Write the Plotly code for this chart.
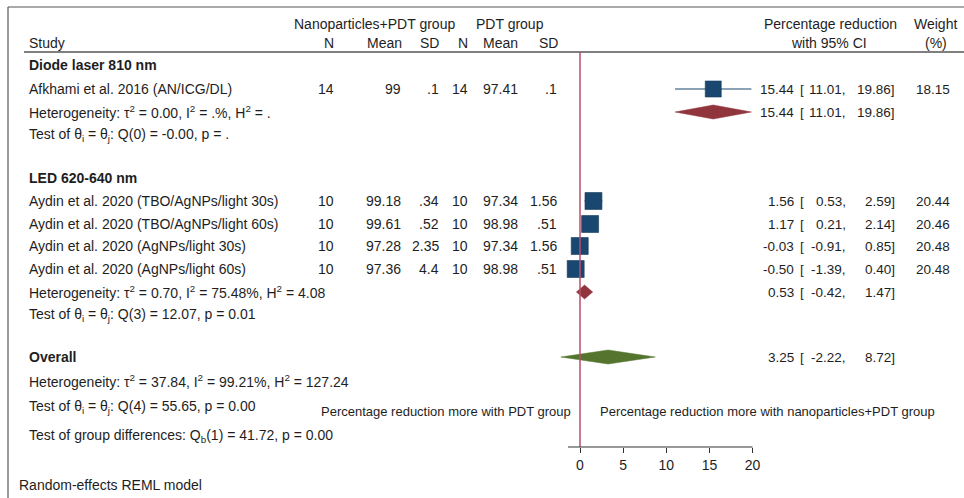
import plotly.graph_objects as go

# ---------------- data ----------------
studies = ["Afkhami et al. 2016 (AN/ICG/DL)",
           "Aydin et al. 2020 (TBO/AgNPs/light 30s)",
           "Aydin et al. 2020 (TBO/AgNPs/light 60s)",
           "Aydin et al. 2020 (AgNPs/light 30s)",
           "Aydin et al. 2020 (AgNPs/light 60s)"]
n1 = [14, 10, 10, 10, 10]
mean1 = [99, 99.18, 99.61, 97.28, 97.36]
sd1 = [0.1, 0.34, 0.52, 2.35, 4.4]
n2 = [14, 10, 10, 10, 10]
mean2 = [97.41, 97.34, 98.98, 97.34, 98.98]
sd2 = [0.1, 1.56, 0.51, 1.56, 0.51]
effect = [15.44, 1.56, 1.17, -0.03, -0.50]
lower = [11.01, 0.53, 0.21, -0.91, -1.39]
upper = [19.86, 2.59, 2.14, 0.85, 0.40]
weight = [18.15, 20.44, 20.46, 20.48, 20.48]

groups = ["Diode laser 810 nm", "LED 620-640 nm"]
group_effect = [15.44, 0.53]
group_lower = [11.01, -0.42]
group_upper = [19.86, 1.47]
group_het = ["Heterogeneity: τ<sup>2</sup> = 0.00, I<sup>2</sup> = .%, H<sup>2</sup> = .",
             "Heterogeneity: τ<sup>2</sup> = 0.70, I<sup>2</sup> = 75.48%, H<sup>2</sup> = 4.08"]
group_test = ["Test of θ<sub>i</sub> = θ<sub>j</sub>: Q(0) = -0.00, p = .",
              "Test of θ<sub>i</sub> = θ<sub>j</sub>: Q(3) = 12.07, p = 0.01"]

overall_effect = 3.25
overall_lower = -2.22
overall_upper = 8.72
overall_het = "Heterogeneity: τ<sup>2</sup> = 37.84, I<sup>2</sup> = 99.21%, H<sup>2</sup> = 127.24"
overall_test = "Test of θ<sub>i</sub> = θ<sub>j</sub>: Q(4) = 55.65, p = 0.00"
group_diff = "Test of group differences: Q<sub>b</sub>(1) = 41.72, p = 0.00"
model_note = "Random-effects REML model"

tick_vals = [0, 5, 10, 15, 20]
axis_min = -1.39
favours_left = "Percentage reduction more with PDT group"
favours_right = "Percentage reduction more with nanoparticles+PDT group"

# ---------------- layout (pixel rows) ----------------
W, H = 964, 498
X0_PX = 580.0          # pixel of x = 0
PX_PER_UNIT = 8.63
AXIS_Y = 447
study_rows = [89, 201, 224, 246, 269]
group_rows = [65, 178]
group_diamond_rows = [112, 292]
group_test_rows = [135, 315]
overall_row = 357
overall_het_row = 381
overall_test_row = 407
group_diff_row = 436
note_row = 485
fav_row = 411

FONT = "Liberation Sans, Arial, sans-serif"
FS = 14
FS_NUM = 13.5
TXT = "#1e1e1e"
NAVY = "#1A476F"
MAROON = "#90353B"
GREEN = "#55752F"
REDLINE = "#B84D6E"


def fmt(v):
    s = "%g" % v
    if s.startswith("0."):
        s = s[1:]
    return s


fig = go.Figure()

# study CI lines (drawn first, behind squares)
ci_x, ci_y = [], []
for lo, hi, y in zip(lower, upper, study_rows):
    ci_x += [lo, hi, None]
    ci_y += [y, y, None]
fig.add_trace(go.Scatter(x=ci_x, y=ci_y, mode="lines",
                         line=dict(color=NAVY, width=1.2),
                         hoverinfo="skip", showlegend=False))

# study squares
fig.add_trace(go.Scatter(
    x=effect, y=study_rows, mode="markers",
    marker=dict(symbol="square", color=NAVY, opacity=1,
                size=[17 * (w / max(weight)) ** 0.5 for w in weight],
                line=dict(width=0.6, color="#153b5d")),
    hoverinfo="skip", showlegend=False))


def diamond(lo, est, hi, yc, color, half=7):
    fig.add_trace(go.Scatter(
        x=[lo, est, hi, est, lo], y=[yc, yc - half, yc, yc + half, yc],
        mode="lines", fill="toself", fillcolor=color,
        line=dict(color=color, width=0.5), hoverinfo="skip", showlegend=False))


for g in range(len(groups)):
    diamond(group_lower[g], group_effect[g], group_upper[g], group_diamond_rows[g], MAROON)
diamond(overall_lower, overall_effect, overall_upper, overall_row, GREEN)

ann = []


def px(x):
    return x / W


def text(x, y, s, anchor="left", size=FS, bold=False, color=TXT):
    if bold:
        s = "<b>" + s + "</b>"
    ann.append(dict(x=px(x), y=y, xref="paper", yref="y", text=s, showarrow=False,
                    xanchor=anchor, yanchor="middle",
                    font=dict(family=FONT, size=size, color=color)))


def ci_text(y, est, lo, hi):
    text(796, y, "%.2f" % est, "right", size=FS_NUM)
    text(798, y, "[", size=FS_NUM)
    text(848, y, "%.2f," % lo, "right", size=FS_NUM)
    text(897, y, "%.2f]" % hi, "right", size=FS_NUM)


# headers
text(374, 24, "Nanoparticles+PDT group", "center")
text(510, 24, "PDT group", "center")
text(830, 24, "Percentage reduction", "center")
text(935, 24, "Weight", "center")
text(27, 43, "Study")
text(336, 43, "N", "right")
text(404, 43, "Mean", "right")
text(441, 43, "SD", "right")
text(470, 43, "N", "right")
text(520, 43, "Mean", "right")
text(560, 43, "SD", "right")
text(829, 43, "with 95% CI", "center")
text(936, 43, "(%)", "center")

# study rows
for i, s in enumerate(studies):
    y = study_rows[i]
    text(27, y, s)
    text(336, y, str(n1[i]), "right")
    text(403, y, fmt(mean1[i]), "right")
    text(441, y, fmt(sd1[i]), "right")
    text(470, y, str(n2[i]), "right")
    text(520, y, fmt(mean2[i]), "right")
    text(559, y, fmt(sd2[i]), "right")
    ci_text(y, effect[i], lower[i], upper[i])
    text(952, y, "%.2f" % weight[i], "right", size=FS_NUM)

# subgroup rows
for g in range(len(groups)):
    text(27, group_rows[g], groups[g], bold=True)
    y = group_diamond_rows[g]
    text(27, y, group_het[g])
    ci_text(y, group_effect[g], group_lower[g], group_upper[g])
    text(27, group_test_rows[g], group_test[g])

# overall
text(27, overall_row, "Overall", bold=True)
ci_text(overall_row, overall_effect, overall_lower, overall_upper)
text(27, overall_het_row, overall_het)
text(27, overall_test_row, overall_test)
text(27, group_diff_row, group_diff)
text(17, note_row, model_note)
text(573, fav_row, favours_left, "right", size=13)
text(598, fav_row, favours_right, "left", size=13)

shapes = [
    # outer frame (top and left)
    dict(type="line", xref="paper", yref="y", x0=px(8), x1=1, y0=7, y1=7,
         line=dict(color="#555555", width=1.2)),
    dict(type="line", xref="paper", yref="y", x0=px(8), x1=px(8), y0=7, y1=H,
         line=dict(color="#555555", width=1.2)),
    # header rule
    dict(type="line", xref="paper", yref="y", x0=px(24), x1=1, y0=52, y1=52,
         line=dict(color="#555555", width=1.6)),
    # no-effect line
    dict(type="line", xref="x", yref="y", x0=0, x1=0, y0=52, y1=AXIS_Y,
         line=dict(color=REDLINE, width=1.5)),
    # x axis baseline
    dict(type="line", xref="x", yref="y", x0=axis_min, x1=max(tick_vals), y0=AXIS_Y, y1=AXIS_Y,
         line=dict(color="#333333", width=1.2)),
]

fig.update_layout(
    width=W, height=H,
    margin=dict(l=0, r=0, t=0, b=0),
    paper_bgcolor="white", plot_bgcolor="white",
    annotations=ann, shapes=shapes,
    xaxis=dict(range=[-X0_PX / PX_PER_UNIT, (W - X0_PX) / PX_PER_UNIT],
               domain=[0, 1], anchor="free", position=(H - AXIS_Y) / H,
               showline=False, showgrid=False, zeroline=False,
               tickvals=tick_vals, ticks="outside", ticklen=5, tickwidth=1.2,
               tickcolor="#333333",
               tickfont=dict(family=FONT, size=14, color=TXT), fixedrange=True),
    yaxis=dict(range=[H, 0], visible=False, fixedrange=True),
)

fig.write_html("out.html", config={"displayModeBar": False},
               post_script="document.body.style.margin='0px';document.body.style.overflow='hidden';")
